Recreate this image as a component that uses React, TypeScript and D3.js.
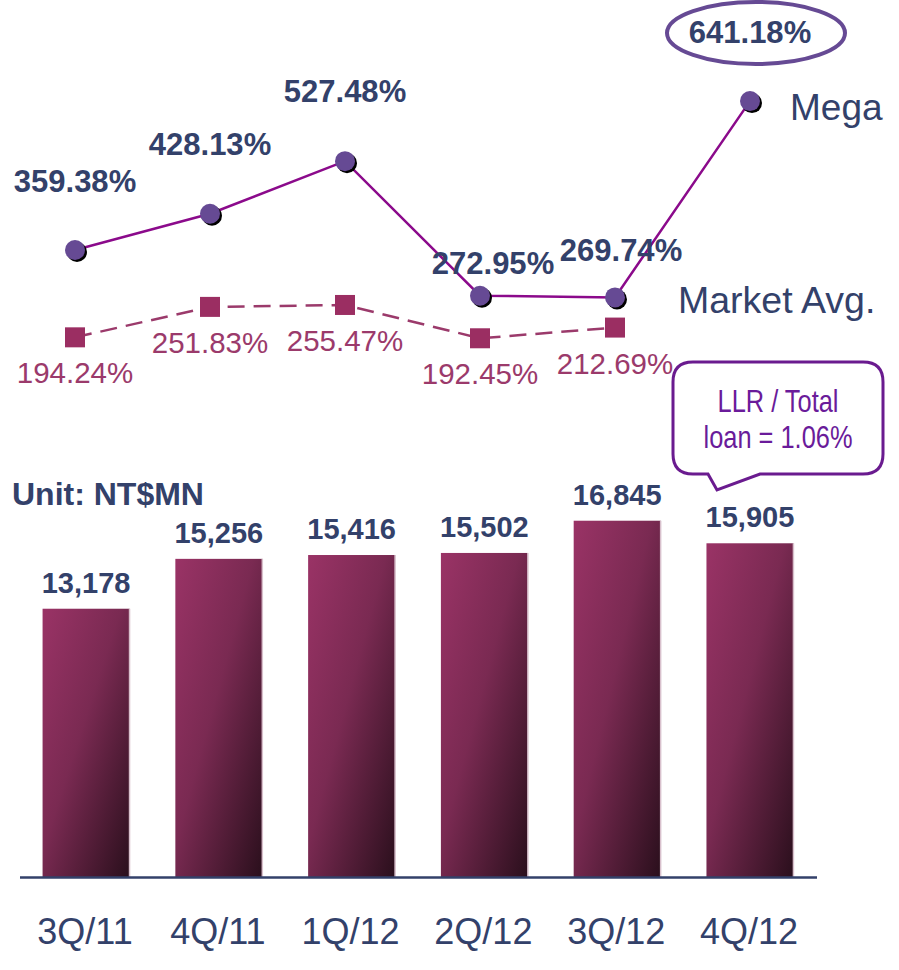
import * as d3 from "d3";

const categories = ["3Q/11", "4Q/11", "1Q/12", "2Q/12", "3Q/12", "4Q/12"];
const reserveValues = [13178, 15256, 15416, 15502, 16845, 15905];
const megaRatio = [359.38, 428.13, 527.48, 272.95, 269.74, 641.18];
const marketRatio = [194.24, 251.83, 255.47, 192.45, 212.69];

const W = 899;
const H = 970;
const navy = "#33416a";
const mauve = "#9b3a6b";
const font = "'Liberation Sans', Arial, sans-serif";

// label nudges for the Mega series (dx, dy from the point)
const megaLabelOffset = [
  [0, -58],
  [0, -59],
  [0, -59],
  [13, -22],
  [6, -36],
  [0, -58],
];

export default function App() {
  // bars
  const xBar = d3.scaleBand<string>().domain(categories).range([20, 816]).paddingInner(0.345).paddingOuter(0.17);
  const yBar = d3.scaleLinear().domain([2000, 18000]).range([877, 493]);

  // lines
  const xLine = d3.scalePoint<string>().domain(categories).range([75, 750]);
  const yPct = d3.scaleLinear().domain([0, 700]).range([440, 70]);

  const megaPts = megaRatio.map((v, i) => [xLine(categories[i])!, yPct(v)] as [number, number]);
  const marketPts = marketRatio.map((v, i) => [xLine(categories[i])!, yPct(v)] as [number, number]);
  const line = d3.line();

  const last = megaPts[megaPts.length - 1];

  return (
    <svg width={W} height={H} style={{ position: "absolute", left: 0, top: 0 }} fontFamily={font}>
      <defs>
        <linearGradient id="barGrad" x1="0" y1="0" x2="1" y2="1">
          <stop offset="0" stopColor="#9a3366" />
          <stop offset="0.45" stopColor="#7a2a52" />
          <stop offset="1" stopColor="#2a0f1c" />
        </linearGradient>
      </defs>
      <rect width={W} height={H} fill="#fff" />

      {/* bars */}
      {reserveValues.map((v, i) => {
        const x = xBar(categories[i])!;
        const y = yBar(v);
        const w = xBar.bandwidth();
        return (
          <g key={categories[i]}>
            <rect x={x} y={y} width={w} height={877 - y} fill="url(#barGrad)" />
            <line x1={x + w} x2={x + w} y1={y} y2={877} stroke="#d8c0cc" strokeWidth={1.5} />
            <text x={x + w / 2} y={y - 16} textAnchor="middle" fontSize={29} fontWeight="bold" fill={navy}>
              {d3.format(",")(v)}
            </text>
            <text x={x + w / 2 - 1} y={944} textAnchor="middle" fontSize={36} fill={navy}>
              {categories[i]}
            </text>
          </g>
        );
      })}
      <line x1={20} x2={817} y1={877.5} y2={877.5} stroke={navy} strokeWidth={2.5} />
      <text x={12} y={505} fontSize={32} fontWeight="bold" fill={navy}>Unit: NT$MN</text>

      {/* market avg */}
      <path d={line(marketPts)!} fill="none" stroke={mauve} strokeWidth={2.5} strokeDasharray="17 9" />
      {marketPts.map(([x, y], i) => (
        <g key={"m" + i}>
          <rect x={x - 10} y={y - 10} width={20} height={20} fill="#9b2e62" />
          <text x={x} y={y + 46} textAnchor="middle" fontSize={29.5} fill={mauve}>
            {marketRatio[i].toFixed(2)}%
          </text>
        </g>
      ))}

      {/* mega */}
      <path d={line(megaPts)!} fill="none" stroke="#8b0a8b" strokeWidth={2.5} />
      {megaPts.map(([x, y], i) => (
        <g key={"g" + i}>
          <circle cx={x + 2} cy={y + 2} r={10} fill="#000" />
          <circle cx={x} cy={y} r={10} fill="#664a94" />
          <text x={x + megaLabelOffset[i][0]} y={y + megaLabelOffset[i][1]} textAnchor="middle" fontSize={31} fontWeight="bold" fill={navy}>
            {megaRatio[i].toFixed(2)}%
          </text>
        </g>
      ))}
      <ellipse cx={last[0] + 6} cy={33} rx={89} ry={31} fill="none" stroke="#664a94" strokeWidth={4} />

      <text x={790} y={120} fontSize={37} fill={navy}>Mega</text>
      <text x={678} y={313} fontSize={37.5} fill={navy}>Market Avg.</text>

      {/* callout */}
      <path
        d="M693,362 H863 Q883,362 883,382 V454 Q883,474 863,474 H760 L717,490 L708,474 H693 Q673,474 673,454 V382 Q673,362 693,362 Z"
        fill="#fff"
        stroke="#6a1b8f"
        strokeWidth={3}
      />
      <g transform="translate(778,0) scale(0.82,1)" fill="#6a1b9a" fontSize={31}>
        <text x={0} y={412} textAnchor="middle">LLR / Total</text>
        <text x={0} y={448} textAnchor="middle">loan = 1.06%</text>
      </g>
    </svg>
  );
}
